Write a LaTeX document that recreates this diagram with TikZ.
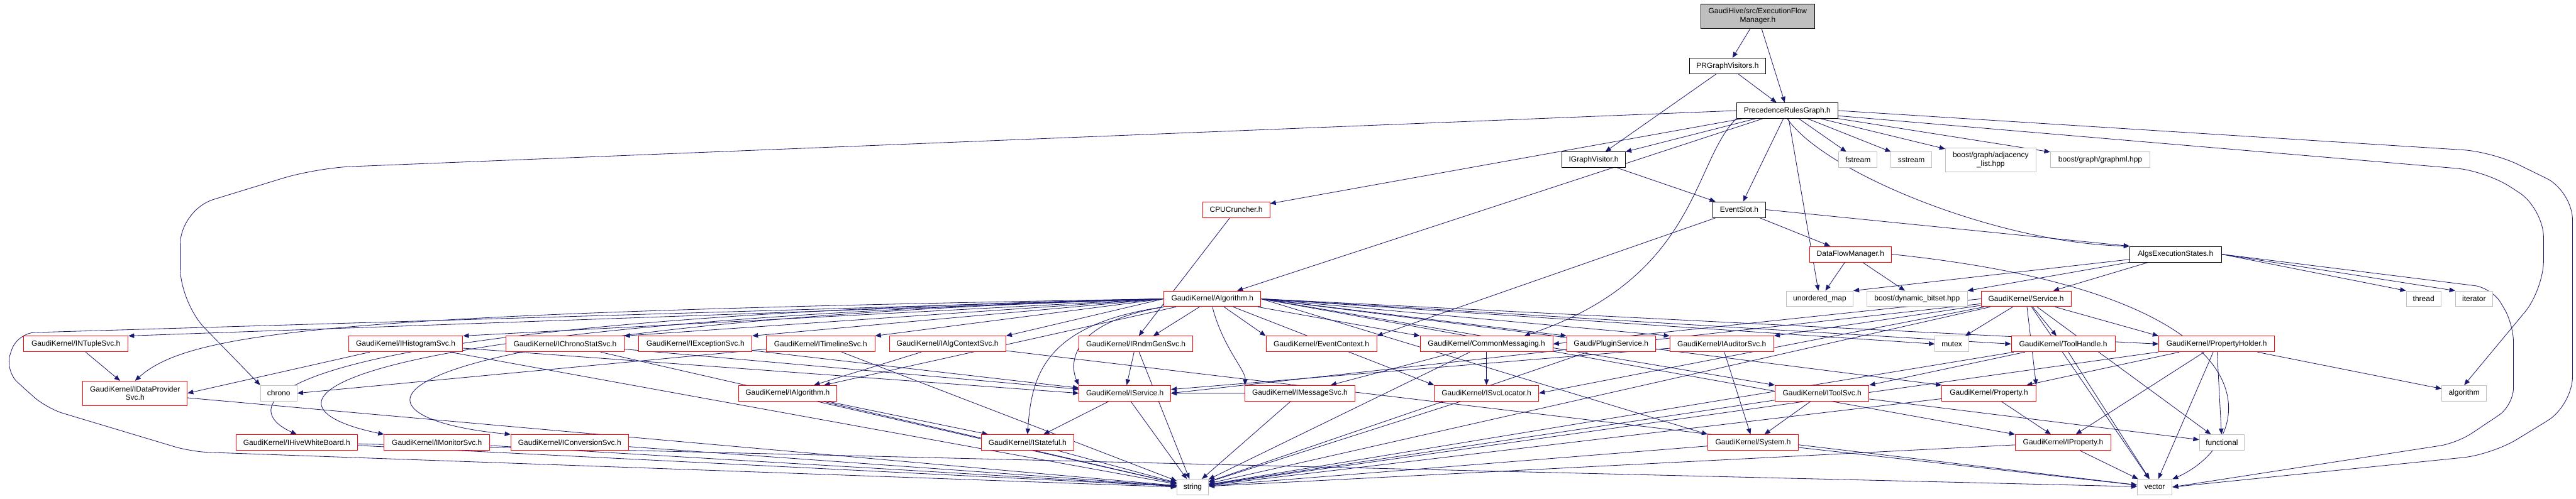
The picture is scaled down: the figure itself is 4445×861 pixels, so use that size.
\documentclass[tikz,border=0pt]{standalone}
\usepackage{fontspec}
\setmainfont{Liberation Sans}
\usetikzlibrary{arrows.meta}
\pgfdeclarelayer{background}
\pgfsetlayers{background,main}
\definecolor{inclblue}{RGB}{25,25,112}
\definecolor{boxgray}{RGB}{191,191,191}

\begin{document}
\begin{tikzpicture}[x=1pt, y=-1pt,
  every node/.style={font=\fontsize{13}{15}\selectfont, align=center, inner sep=0pt,
    minimum height=27pt, fill=white, line width=1pt},
  rootfile/.style={draw=black, fill=boxgray, minimum height=42pt},
  blkfile/.style={draw=black},
  redfile/.style={draw=red},
  sysfile/.style={draw=boxgray},
  incl/.style={draw=inclblue, line width=0.9pt, -{Triangle[length=10pt,width=8pt]}}]
  \useasboundingbox (0,0) rectangle (4445,861);

  % the file itself and its direct includes
  \node[rootfile, minimum width=196pt] (root) at (3033,28) {GaudiHive/src/ExecutionFlow\\Manager.h};
  \node[blkfile, minimum width=132pt] (prgv) at (2981,114) {PRGraphVisitors.h};
  \node[blkfile, minimum width=175pt] (prg) at (3084,191) {PrecedenceRulesGraph.h};
  \node[blkfile, minimum width=110pt] (igv) at (2750,276) {IGraphVisitor.h};
  \node[sysfile, minimum width=66pt] (fstream) at (3206,276) {fstream};
  \node[sysfile, minimum width=70pt] (sstream) at (3298,276) {sstream};
  \node[sysfile, minimum width=156pt, minimum height=42pt] (adjlist) at (3435,276) {boost/graph/adjacency\\\_list.hpp};
  \node[sysfile, minimum width=172pt] (graphml) at (3624,276) {boost/graph/graphml.hpp};
  \node[redfile, minimum width=116pt] (cpu) at (2133,362) {CPUCruncher.h};
  \node[blkfile, minimum width=91pt] (evslot) at (3001,362) {EventSlot.h};
  \node[redfile, minimum width=141pt] (dfm) at (3193,439) {DataFlowManager.h};
  \node[blkfile, minimum width=158pt] (aes) at (3754,439) {AlgsExecutionStates.h};

  % row of Algorithm.h
  \node[redfile, minimum width=167pt] (algo) at (2092,516) {GaudiKernel/Algorithm.h};
  \node[sysfile, minimum width=115pt] (unmap) at (3140,516) {unordered\_map};
  \node[sysfile, minimum width=173pt] (bitset) at (3308,516) {boost/dynamic\_bitset.hpp};
  \node[redfile, minimum width=155pt] (service) at (3496,516) {GaudiKernel/Service.h};
  \node[sysfile, minimum width=60pt] (thread) at (4182,516) {thread};
  \node[sysfile, minimum width=64pt] (iterator) at (4269,516) {iterator};

  % interfaces
  \node[redfile, minimum width=180pt] (ntuple) at (131,594) {GaudiKernel/INTupleSvc.h};
  \node[redfile, minimum width=197pt] (histo) at (700,594) {GaudiKernel/IHistogramSvc.h};
  \node[redfile, minimum width=203pt] (chronostat) at (975,594) {GaudiKernel/IChronoStatSvc.h};
  \node[redfile, minimum width=195pt] (except) at (1200,594) {GaudiKernel/IExceptionSvc.h};
  \node[redfile, minimum width=187pt] (timeline) at (1416,594) {GaudiKernel/ITimelineSvc.h};
  \node[redfile, minimum width=201pt] (algctx) at (1635,594) {GaudiKernel/IAlgContextSvc.h};
  \node[redfile, minimum width=196pt] (rndm) at (1960,594) {GaudiKernel/IRndmGenSvc.h};
  \node[redfile, minimum width=191pt] (evctx) at (2280,594) {GaudiKernel/EventContext.h};
  \node[redfile, minimum width=229pt] (cmsg) at (2565,594) {GaudiKernel/CommonMessaging.h};
  \node[redfile, minimum width=153pt] (plugin) at (2780,594) {Gaudi/PluginService.h};
  \node[redfile, minimum width=179pt] (auditor) at (2971,594) {GaudiKernel/IAuditorSvc.h};
  \node[sysfile, minimum width=58pt] (mutex) at (3368,594) {mutex};
  \node[redfile, minimum width=179pt] (toolhandle) at (3560,594) {GaudiKernel/ToolHandle.h};
  \node[redfile, minimum width=200pt] (propholder) at (3825,594) {GaudiKernel/PropertyHolder.h};

  \node[redfile, minimum width=180pt, minimum height=42pt] (dataprov) at (233,679) {GaudiKernel/IDataProvider\\Svc.h};
  \node[sysfile, minimum width=63pt] (chrono) at (481,679) {chrono};
  \node[redfile, minimum width=169pt] (ialg) at (1359,679) {GaudiKernel/IAlgorithm.h};
  \node[redfile, minimum width=158pt] (iservice) at (1941,679) {GaudiKernel/IService.h};
  \node[redfile, minimum width=189pt] (msgsvc) at (2243,679) {GaudiKernel/IMessageSvc.h};
  \node[redfile, minimum width=180pt] (svcloc) at (2565,679) {GaudiKernel/ISvcLocator.h};
  \node[redfile, minimum width=162pt] (itoolsvc) at (3144,679) {GaudiKernel/IToolSvc.h};
  \node[redfile, minimum width=162pt] (property) at (3432,679) {GaudiKernel/Property.h};
  \node[sysfile, minimum width=77pt] (algorithm) at (4252,679) {algorithm};

  \node[redfile, minimum width=210pt] (hive) at (512,764) {GaudiKernel/IHiveWhiteBoard.h};
  \node[redfile, minimum width=182pt] (monitor) at (754,764) {GaudiKernel/IMonitorSvc.h};
  \node[redfile, minimum width=203pt] (conv) at (983,764) {GaudiKernel/IConversionSvc.h};
  \node[redfile, minimum width=160pt] (istateful) at (1773,764) {GaudiKernel/IStateful.h};
  \node[redfile, minimum width=156pt] (system) at (3025,764) {GaudiKernel/System.h};
  \node[redfile, minimum width=165pt] (iproperty) at (3560,764) {GaudiKernel/IProperty.h};
  \node[sysfile, minimum width=78pt] (functional) at (3834,764) {functional};

  % standard headers at the bottom
  \node[sysfile, minimum width=54pt] (string) at (2058,841) {string};
  \node[sysfile, minimum width=60pt] (vector) at (3718,841) {vector};

  \begin{pgfonlayer}{background}
  % top part
  \draw[incl] (root) -- (prgv);
  \draw[incl] (root) -- (prg);
  \draw[incl] (prgv) -- (prg);
  \draw[incl] (prgv) -- (igv);
  \draw[incl] (prg) -- (igv);
  \draw[incl] (prg) -- (fstream);
  \draw[incl] (prg) -- (sstream);
  \draw[incl] (prg) -- (adjlist);
  \draw[incl] (prg) -- (graphml);
  \draw[incl] (prg) -- (evslot);
  \draw[incl] (prg) -- (cpu);
  \draw[incl] (prg) -- (algo);
  \draw[incl] (prg) -- (unmap);
  \draw[incl] (prg.south west) .. controls (2920,280) and (2930,480) .. ([xshift=-50pt]cmsg.north east);
  \draw[incl] (prg.south) .. controls (3150,300) and (3450,420) .. (aes.north west);
  \draw[incl, rounded corners=60pt] (prg.west) -- (546,290) -- (311,362) -- (311,523) -- (chrono.north west);
  \draw[incl, rounded corners=50pt] (prg.east) -- (4300,262) -- (4439,330) -- (4439,700) -- (4300,785) -- (vector.east);
  \draw[incl, rounded corners=50pt] ([yshift=-9pt]prg.east) -- (4289,295) -- (4389,360) -- (4389,500) -- (algorithm.north);
  \draw[incl] (igv) -- (evslot);
  \draw[incl] (evslot) -- (dfm);
  \draw[incl] (evslot.east) -- (aes.north west);
  \draw[incl] (evslot) -- (evctx.north east);
  \draw[incl] (dfm) -- (unmap);
  \draw[incl] (dfm) -- (bitset);
  \draw[incl] (dfm.east) .. controls (3950,510) and (3900,760) .. (vector);
  \draw[incl] (aes) -- (unmap.north east);
  \draw[incl] (aes) -- (bitset.north east);
  \draw[incl] (aes) -- (service);
  \draw[incl] (aes.east) -- (thread.north west);
  \draw[incl] (aes.east) -- (iterator.north west);
  \draw[incl, rounded corners=30pt] (aes.east) -- (4300,497) -- (4337,560) -- (4337,700) -- (4240,765) -- (vector.east);
  \draw[incl] (cpu) -- ([xshift=5pt]rndm.north);

  % GaudiKernel/Algorithm.h
  \draw[incl] (algo.west) -- (ntuple.north east);
  \draw[incl] (algo.west) .. controls (600,540) and (330,570) .. (dataprov.north);
  \draw[incl] (algo.west) -- (histo.north east);
  \draw[incl] (algo.west) -- (chronostat.north east);
  \draw[incl] (algo.west) -- (except.north east);
  \draw[incl] (algo.west) -- (timeline.north east);
  \draw[incl] (algo.west) -- (algctx.north east);
  \draw[incl] (algo) -- ([xshift=30pt]rndm.north);
  \draw[incl] (algo) -- (evctx.north west);
  \draw[incl] (algo) -- (cmsg.north west);
  \draw[incl] (algo.east) -- (plugin.north west);
  \draw[incl] (algo.east) -- (auditor.north west);
  \draw[incl] (algo.east) -- (mutex.west);
  \draw[incl] (algo.east) -- (toolhandle.west);
  \draw[incl] (algo.east) -- (propholder.west);
  \draw[incl] (algo) -- (ialg);
  \draw[incl] (algo.south west) .. controls (1830,560) and (1850,640) .. (iservice.north west);
  \draw[incl] (algo.south) .. controls (2110,600) and (2150,640) .. (msgsvc.north west);
  \draw[incl] (algo) -- (svcloc.north west);
  \draw[incl] (algo.east) -- (itoolsvc.north west);
  \draw[incl] (algo.east) -- (property.north west);
  \draw[incl] (algo.east) -- (system.north west);
  \draw[incl] (algo.east) -- (iproperty.north west);
  \draw[incl] (algo.south west) .. controls (1800,560) and (1780,650) .. (istateful.north);
  \draw[incl] (algo.west) .. controls (420,550) and (400,700) .. (hive.north);
  \draw[incl] (algo.west) .. controls (500,560) and (420,700) .. (monitor.north west);
  \draw[incl] (algo.west) .. controls (570,560) and (560,720) .. (conv.north west);
  \draw[incl, rounded corners=30pt] (algo.west) -- (30,575) -- (8,640) -- (80,705) -- (330,780) -- (string.west);

  % interfaces among themselves
  \draw[incl] (ntuple) -- (dataprov);
  \draw[incl] (histo) -- (dataprov.east);
  \draw[incl] (histo) -- (iservice.west);
  \draw[incl] (histo) -- (string);
  \draw[incl] (timeline) -- (chrono.east);
  \draw[incl] (timeline) -- (string);
  \draw[incl] (chronostat) -- (string);
  \draw[incl] (chronostat) -- (iservice);
  \draw[incl] (except) -- (iservice);
  \draw[incl] (algctx) -- (ialg);
  \draw[incl] (algctx) -- (vector);
  \draw[incl] (rndm) -- (iservice);
  \draw[incl] (rndm) -- (string);
  \draw[incl] (iservice) -- (istateful);
  \draw[incl] (iservice) -- (string);
  \draw[incl] (istateful) -- (string);
  \draw[incl] (ialg) -- (istateful);
  \draw[incl] (ialg) -- (string);
  \draw[incl] (dataprov) -- (string);
  \draw[incl] (hive) -- (string);
  \draw[incl] (hive) -- (vector);
  \draw[incl] (monitor) -- (string);
  \draw[incl] (conv) -- (string);
  \draw[incl] (cmsg) -- (msgsvc);
  \draw[incl] (cmsg) -- (svcloc);
  \draw[incl] (cmsg) -- (string);
  \draw[incl] (msgsvc) -- (iservice);
  \draw[incl] (msgsvc) -- (string);
  \draw[incl] (svcloc) -- (string);
  \draw[incl] (plugin) -- (string);
  \draw[incl] (auditor) -- (iservice);
  \draw[incl] (auditor) -- (system);

  % GaudiKernel/Service.h and the property files
  \draw[incl] (service.west) -- (cmsg.east);
  \draw[incl] (service) -- (auditor.north east);
  \draw[incl] (service) -- (mutex);
  \draw[incl] (service) -- (toolhandle);
  \draw[incl] (service) -- (propholder.north west);
  \draw[incl] (service) -- (property.north east);
  \draw[incl] (service) -- (iservice.east);
  \draw[incl] (service) -- (svcloc.east);
  \draw[incl] (service) -- (string);
  \draw[incl] (service) -- (vector);
  \draw[incl] (service) -- (functional);
  \draw[incl] (toolhandle) -- (itoolsvc.north east);
  \draw[incl] (toolhandle) -- (string);
  \draw[incl] (toolhandle) -- (vector);
  \draw[incl] (itoolsvc) -- (system);
  \draw[incl] (itoolsvc) -- (functional);
  \draw[incl] (itoolsvc) -- (string);
  \draw[incl] (property) -- (iproperty);
  \draw[incl] (property) -- (string);
  \draw[incl] (propholder) -- (iproperty);
  \draw[incl] (propholder) -- (property);
  \draw[incl] (propholder) -- (functional);
  \draw[incl] (propholder) -- (algorithm);
  \draw[incl] (propholder) -- (string);
  \draw[incl] (propholder) -- (vector);
  \draw[incl] (iproperty) -- (string);
  \draw[incl] (iproperty) -- (vector);
  \draw[incl] (system) -- (string);
  \draw[incl] (system) -- (vector);
  \end{pgfonlayer}
\end{tikzpicture}
\end{document}
